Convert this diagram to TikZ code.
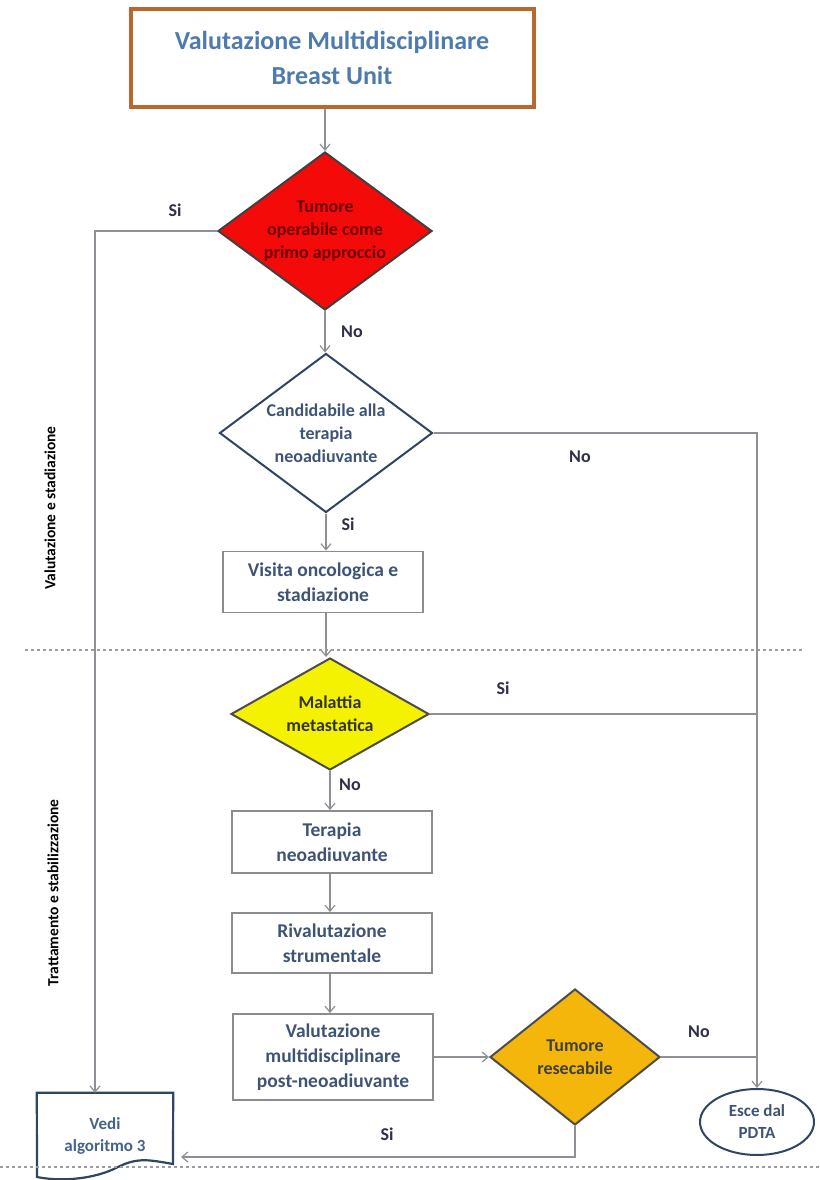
\documentclass[tikz,border=0pt]{standalone}
\usepackage{fontspec}
\setmainfont{Carlito}
\usetikzlibrary{shapes.geometric,arrows.meta}

\definecolor{linegray}{HTML}{8E9096}
\definecolor{boxgray}{HTML}{8A8C90}
\definecolor{boxtext}{HTML}{3E5476}
\definecolor{titlebrown}{HTML}{B8682F}
\definecolor{titleblue}{HTML}{4D7BAE}
\definecolor{lbltext}{HTML}{2E3047}
\definecolor{navy}{HTML}{2F4563}
\definecolor{redfill}{HTML}{F50A0A}
\definecolor{redtext}{HTML}{6E0000}
\definecolor{yellowfill}{HTML}{F4F200}
\definecolor{orangefill}{HTML}{F4B60A}
\definecolor{dotgray}{HTML}{9A9CA2}
\definecolor{vedtext}{HTML}{44638C}

\newcommand\fcTitle{\bfseries\fontsize{26}{35}\selectfont}
\newcommand\fcBox{\bfseries\fontsize{19.5}{25}\selectfont}
\newcommand\fcDia{\bfseries\fontsize{18}{23}\selectfont}
\newcommand\fcEnd{\bfseries\fontsize{17}{22}\selectfont}
\newcommand\fcLbl{\bfseries\fontsize{18}{20}\selectfont}
\newcommand\fcSide{\bfseries\fontsize{15.5}{17}\selectfont}

\begin{document}
\begin{tikzpicture}[x=1pt,y=-1pt,
  conn/.style={draw=linegray, line width=1.6pt},
  arr/.style={conn, -{Straight Barb[length=6pt,width=10pt,line width=1.2pt]}},
  procbox/.style={draw=boxgray, line width=1.8pt, fill=white, minimum width=200pt,
    inner sep=0pt, align=center, font=\fcBox, text=boxtext},
  decision/.style={diamond, line width=2pt, inner sep=0pt},
  diatext/.style={align=center, font=\fcDia, inner sep=0pt},
  lbl/.style={font=\fcLbl, text=lbltext},
  side/.style={font=\fcSide, text=black, rotate=90},
  sep/.style={draw=dotgray, line width=1.6pt, dash pattern=on 3pt off 3pt}]

% page
\fill[white] (0,0) rectangle (819,1180);
\useasboundingbox (0,0) rectangle (819,1180);

% header
\node[draw=titlebrown, line width=4pt, fill=white, minimum width=403pt, minimum height=98pt,
  align=center, font=\fcTitle, text=titleblue] (title) at (332,58)
  {Valutazione Multidisciplinare\\Breast Unit};

% decisions: fixed-size diamonds with their wording laid on top
\node[decision, draw=black!75, fill=redfill, minimum width=214pt, minimum height=158pt]
  (d1) at (325,231) {};
\node[diatext, text=redtext] (d1t) at (d1.center) {Tumore\\operabile come\\primo approccio};
\node[decision, draw=navy, fill=white, minimum width=213pt, minimum height=159pt]
  (d2) at (326,433) {};
\node[diatext, text=boxtext] (d2t) at (d2.center) {Candidabile alla\\terapia\\neoadiuvante};
\node[decision, draw=black!70, fill=yellowfill, minimum width=198pt, minimum height=112pt]
  (d3) at (330,714) {};
\node[diatext, text=black!80] (d3t) at (d3.center) {Malattia\\metastatica};
\node[decision, draw=black!70, fill=orangefill, minimum width=170pt, minimum height=136pt]
  (d4) at (575,1057) {};
\node[diatext, text=black!75] (d4t) at (d4.center) {Tumore\\resecabile};

% process boxes
\node[procbox, minimum height=61pt] (b1) at (323,582) {Visita oncologica e\\stadiazione};
\node[procbox, minimum height=62pt] (b2) at (332,842) {Terapia\\neoadiuvante};
\node[procbox, minimum height=60pt] (b3) at (332,943) {Rivalutazione\\strumentale};
\node[procbox, minimum height=86pt] (b4) at (333,1057) {Valutazione\\multidisciplinare\\post-neoadiuvante};

% terminal nodes
\node[ellipse, draw=navy, line width=2pt, fill=white, minimum width=114pt, minimum height=66pt,
  inner sep=0pt, align=center, font=\fcEnd, text=boxtext] (esce) at (757,1122) {Esce dal\\PDTA};
\node[font=\fcEnd, text=vedtext, align=center, minimum width=136pt, minimum height=86pt,
  inner sep=0pt] (vedi) at (105,1136) {Vedi\\algoritmo 3};
\draw[navy, line width=2.2pt]
  (vedi.north west) -- (vedi.north east) -- (173,1164)
  .. controls (150,1160) and (138,1157) .. (118,1167)
  .. controls (95,1179) and (62,1182) .. (37,1177) -- cycle;

% routing points
\coordinate (lx) at (95,231);
\coordinate (rx) at (757,433);
\coordinate (sb) at (575,1157);
\coordinate (se) at (181,1157);

% connectors
\draw[arr] (title.south -| d1.north) -- (d1.north);
\draw[arr] (d1.west) -- (lx) -- (lx |- vedi.north);
\draw[arr] (d1.south) -- (d2.north -| d1.south);
\draw[arr] (d2.east) -- (rx) -- (esce.north);
\draw[arr] (d2.south) -- (b1.north -| d2.south);
\draw[arr] (b1.south -| d2.south) -- (d3.north -| d2.south);
\draw[conn] (d3.east) -- (d3.east -| rx);
\draw[arr] (d3.south) -- (b2.north -| d3.south);
\draw[arr] (b2.south -| d3.south) -- (b3.north -| d3.south);
\draw[arr] (b3.south -| d3.south) -- (b4.north -| d3.south);
\draw[arr] (b4.east) -- (d4.west);
\draw[conn] (d4.east) -- (d4.east -| rx);
\draw[arr] (d4.south) -- (sb) -- (se);

% branch labels
\node[lbl] at (175,210) {Si};
\node[lbl] at (352,332) {No};
\node[lbl] at (580,457) {No};
\node[lbl] at (348,524) {Si};
\node[lbl] at (503,688) {Si};
\node[lbl] at (350,785) {No};
\node[lbl] at (699,1032) {No};
\node[lbl] at (387,1134) {Si};

% phase separators and phase names
\draw[sep] (25,650) -- (805,650);
\draw[sep] (0,1167) -- (819,1167);
\node[side] at (50,508) {Valutazione e stadiazione};
\node[side] at (53,893) {Trattamento e stabilizzazione};
\end{tikzpicture}
\end{document}
